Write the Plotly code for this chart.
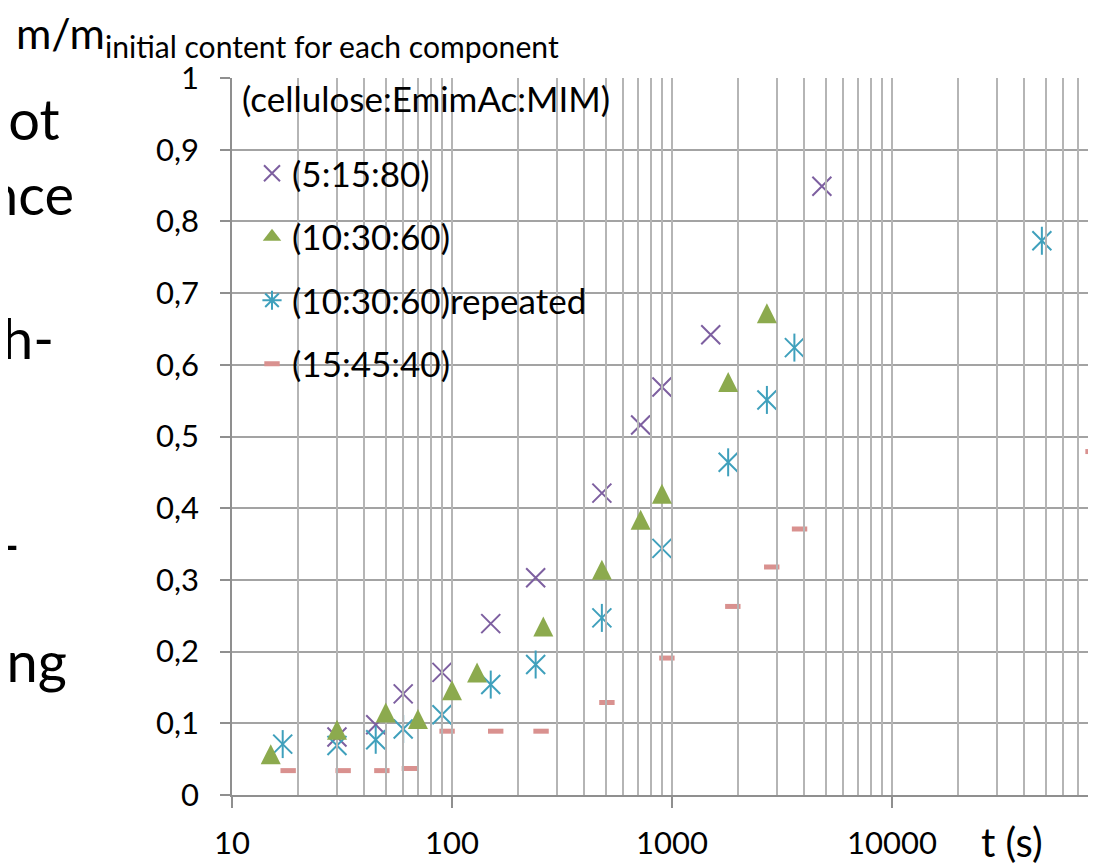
import plotly.graph_objects as go

# ---------------- data ----------------
t_5_15_80 = [30, 45, 60, 90, 150, 240, 480, 720, 900, 1500, 4800]
m_5_15_80 = [0.081, 0.098, 0.141, 0.171, 0.239, 0.303, 0.421, 0.516, 0.569, 0.642, 0.849]

t_10_30_60 = [15, 30, 50, 70, 100, 130, 260, 480, 720, 900, 1800, 2700]
m_10_30_60 = [0.057, 0.091, 0.115, 0.106, 0.146, 0.171, 0.235, 0.314, 0.384, 0.420, 0.576, 0.672]

t_10_30_60_rep = [17, 30, 45, 60, 90, 150, 240, 480, 900, 1800, 2700, 3600, 48000]
m_10_30_60_rep = [0.071, 0.069, 0.077, 0.092, 0.112, 0.154, 0.182, 0.247, 0.344, 0.464, 0.551, 0.624, 0.773]

t_15_45_40 = [18, 32, 48, 64, 95, 158, 254, 506, 948, 1890, 2840, 3800, 82000]
m_15_45_40 = [0.034, 0.034, 0.034, 0.037, 0.089, 0.089, 0.089, 0.129, 0.191, 0.263, 0.318, 0.371, 0.479]

series_names = ["(5:15:80)", "(10:30:60)", "(10:30:60)repeated", "(15:45:40)"]
legend_title = "(cellulose:EmimAc:MIM)"

x_tick_vals = [10, 100, 1000, 10000]
x_tick_text = ["10", "100", "1000", "10000"]
y_tick_vals = [0, 0.1, 0.2, 0.3, 0.4, 0.5, 0.6, 0.7, 0.8, 0.9, 1]
y_tick_text = ["0", "0,1", "0,2", "0,3", "0,4", "0,5", "0,6", "0,7", "0,8", "0,9", "1"]

side_fragments = ["not", "nce", "h-", "-", "ing"]

# ---------------- style ----------------
PURPLE = "#7D5FA0"
GREEN = "#8CAA4E"
TEAL = "#3FA0BC"
PINK = "#D9918F"
GRIDX = "#B5B5B5"
GRIDY = "#A3A3A3"
AXIS = "#8F8F8F"
FONT = "Lato"

OFF = 8                 # page body margin: the figure starts at (8, 8) in the window
W, H = 1096 - OFF, 865 - OFF
L, R, T, B = 232 - OFF, 0, 78 - OFF, 70
PW = W - L - R          # 864 px -> 220 px per decade
PH = H - T - B          # 717 px for 0..1
SHIFT = 10              # px: arrow marker apex sits on the point -> raise its axis by half a marker


def px_x(page_px):
    return (page_px - OFF - L) / PW


def px_y(page_py):
    return (H - B - (page_py - OFF)) / PH


fig = go.Figure()

fig.add_trace(go.Scatter(
    x=t_5_15_80, y=m_5_15_80, mode="markers", name=series_names[0],
    legendgroup="a", legendrank=1,
    marker=dict(symbol="x-thin-open", size=19, color=PURPLE, line=dict(width=2, color=PURPLE)),
    cliponaxis=False,
))

# triangles (apex-anchored arrow markers on a twin axis raised by SHIFT px)
fig.add_trace(go.Scatter(
    x=t_10_30_60, y=m_10_30_60, mode="markers", name=series_names[1],
    yaxis="y2", showlegend=False, legendgroup="b",
    marker=dict(symbol="arrow-up", size=20, color=GREEN, line=dict(width=0)),
    cliponaxis=False,
))
fig.add_trace(go.Scatter(
    x=[None], y=[None], mode="markers", name=series_names[1],
    legendgroup="b", legendrank=2,
    marker=dict(symbol="triangle-up", size=16, color=GREEN, line=dict(width=0)),
))

# asterisks: X + vertical bar
fig.add_trace(go.Scatter(
    x=t_10_30_60_rep, y=m_10_30_60_rep, mode="markers", name=series_names[2],
    showlegend=False, legendgroup="c",
    marker=dict(symbol="x-thin-open", size=19, color=TEAL, line=dict(width=2, color=TEAL)),
    cliponaxis=False,
))
fig.add_trace(go.Scatter(
    x=t_10_30_60_rep, y=m_10_30_60_rep, mode="markers", name=series_names[2],
    showlegend=False, legendgroup="c",
    marker=dict(symbol="line-ns-open", size=20, color=TEAL, line=dict(width=2, color=TEAL)),
    cliponaxis=False,
))
fig.add_trace(go.Scatter(
    x=[None], y=[None], mode="markers", name=series_names[2],
    legendgroup="c", legendrank=3,
    marker=dict(symbol="asterisk-open", size=16, color=TEAL, line=dict(width=2, color=TEAL)),
))

fig.add_trace(go.Scatter(
    x=t_15_45_40, y=m_15_45_40, mode="markers", name=series_names[3],
    legendgroup="d", legendrank=4,
    marker=dict(symbol="line-ew-open", size=11, color=PINK, line=dict(width=5, color=PINK)),
    cliponaxis=False,
))

minor_vals = [m * 10 ** e for e in range(1, 5) for m in range(2, 10)]

fig.update_layout(
    template="none",
    width=W, height=H,
    margin=dict(l=L, r=R, t=T, b=B, pad=0, autoexpand=False),
    paper_bgcolor="white", plot_bgcolor="rgba(0,0,0,0)",
    font=dict(family=FONT, size=31, color="black"),
    showlegend=True,
    legend=dict(
        x=px_x(252), y=px_y(144), xanchor="left", yanchor="top",
        bgcolor="rgba(0,0,0,0)", borderwidth=0,
        font=dict(family=FONT, size=35, color="black"),
        tracegroupgap=15, traceorder="grouped",
    ),
    xaxis=dict(
        type="log", range=[1, 1 + PW / 220.0], automargin=False,
        tickmode="array", tickvals=x_tick_vals, ticktext=x_tick_text,
        showgrid=True, gridcolor=GRIDX, gridwidth=1.5,
        minor=dict(tickmode="array", tickvals=minor_vals, showgrid=True,
                   gridcolor=GRIDX, gridwidth=1.5, ticks=""),
        showline=True, linecolor=AXIS, linewidth=1.5,
        ticks="outside", ticklen=11, tickwidth=1.5, tickcolor=AXIS,
        ticklabelstandoff=9,
        zeroline=False, anchor="y",
        tickfont=dict(family=FONT, size=31, color="black"),
    ),
    yaxis=dict(
        domain=[0, 1], range=[0, 1], automargin=False,
        tickmode="array", tickvals=y_tick_vals, ticktext=y_tick_text,
        showgrid=True, gridcolor=GRIDY, gridwidth=1.5,
        showline=True, linecolor=AXIS, linewidth=1.5,
        ticks="outside", ticklen=10, tickwidth=1.5, tickcolor=AXIS,
        ticklabelstandoff=15,
        zeroline=False, anchor="x",
        tickfont=dict(family=FONT, size=31, color="black"),
    ),
    yaxis2=dict(
        domain=[SHIFT / PH, 1], range=[0, (PH - SHIFT) / PH], anchor="x",
        visible=False, showgrid=False, zeroline=False, automargin=False,
    ),
)

annotations = [
    dict(text="m/m<sub>initial content for each component</sub>", xref="paper", yref="paper",
         x=px_x(14), y=px_y(36), xanchor="left", yanchor="middle",
         showarrow=False, font=dict(family=FONT, size=43, color="black")),
    dict(text="t (s)", xref="paper", yref="paper",
         x=px_x(1012), y=px_y(842), xanchor="center", yanchor="middle",
         showarrow=False, font=dict(family=FONT, size=40, color="black")),
    dict(text=legend_title, xref="paper", yref="paper",
         x=px_x(240), y=px_y(98), xanchor="left", yanchor="middle",
         showarrow=False, font=dict(family=FONT, size=35, color="black")),
]

frag_pos = [(62, 118), (76, 193), (56, 338), (22, 543), (69, 660)]
for txt, (rx, cy) in zip(side_fragments, frag_pos):
    annotations.append(dict(
        text=txt, xref="paper", yref="paper",
        x=px_x(rx), y=px_y(cy), xanchor="right", yanchor="middle",
        showarrow=False, font=dict(family=FONT, size=56, color="black")))

fig.update_layout(annotations=annotations)

fig.write_html("out.html")
